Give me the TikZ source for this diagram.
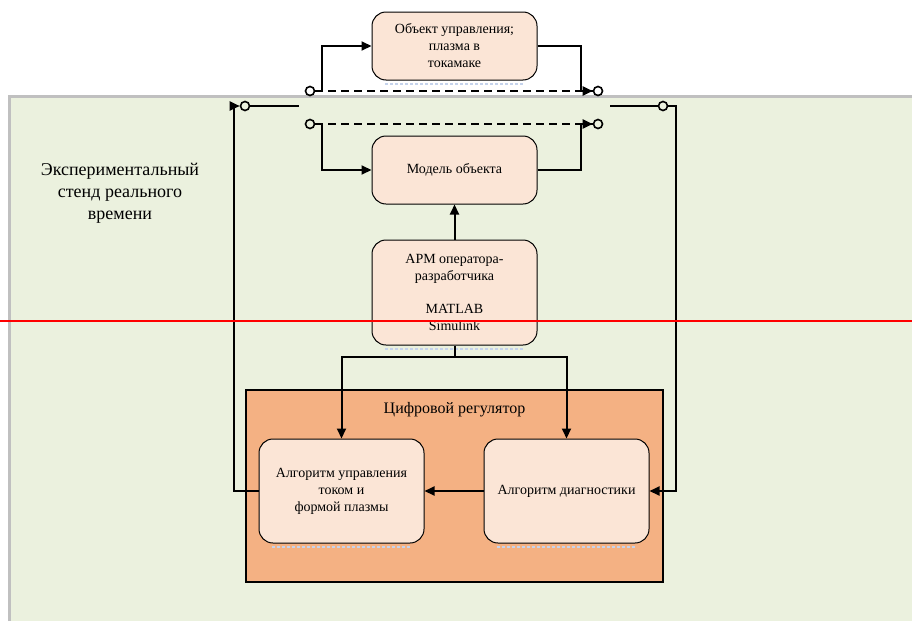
\documentclass[tikz,border=0pt]{standalone}
\usepackage{fontspec}
\setmainfont{Liberation Serif}
\usetikzlibrary{arrows.meta}
\definecolor{boxfill}{HTML}{FBE5D6}
\definecolor{regfill}{HTML}{F4B183}
\definecolor{bgreen}{HTML}{EBF1DE}
\definecolor{bgray}{HTML}{C0C0C0}
\definecolor{shadowc}{HTML}{C5D3EC}
\tikzset{
  blockbox/.style={draw=black, fill=boxfill, rounded corners=14pt, minimum width=165pt, align=center, inner sep=2pt,
    font=\fontsize{14}{17}\selectfont, line width=1pt},
  regbox/.style={draw=black, fill=regfill, minimum width=417pt, minimum height=192pt, line width=1.6pt},
  swc/.style={circle, draw=black, line width=1.6pt, inner sep=0pt, minimum size=9pt},
  conn/.style={line width=2pt, draw=black},
  arr/.style={conn, -{Triangle[length=10pt,width=9pt]}},
  dashconn/.style={line width=1.5pt, dash pattern=on 8pt off 5pt},
  shadowline/.style={draw=shadowc, line width=1.2pt, dash pattern=on 3pt off 2pt}
}
\begin{document}
\begin{tikzpicture}[x=1pt,y=-1pt]
\useasboundingbox (0,0) rectangle (912,621);
% background
\fill[bgreen] (9,96) rectangle (912,621);
\draw[bgray, line width=3pt] (9,621) -- (9,96) -- (912,96);
% regulator
\node[regbox] (reg) at (454.5,486) {};
\node[font=\fontsize{16}{19}\selectfont] (regl) at (454.5,410) {Цифровой регулятор};
% shadows
\draw[shadowline] (385,84) -- (524,84);
\draw[shadowline] (385,349) -- (524,349);
\draw[shadowline] (272,547) -- (411,547);
\draw[shadowline] (497,547) -- (636,547);
% blocks
\node[blockbox, minimum height=68pt] (top) at (454.5,46) {Объект управления;\\плазма в\\токамаке};
\node[blockbox, minimum height=68pt] (model) at (454.5,170) {Модель объекта};
\node[blockbox, minimum height=105pt] (apm) at (454.5,292.5) {АРМ оператора-\\разработчика\\[16pt]MATLAB\\Simulink};
\node[blockbox, minimum height=104pt] (ctrl) at (341.5,491) {Алгоритм управления\\током и\\формой плазмы};
\node[blockbox, minimum height=104pt] (diag) at (566.5,491) {Алгоритм диагностики};
% left label
\node[align=center, font=\fontsize{18}{22}\selectfont] (lbl) at (120,193) {Экспериментальный\\стенд реального\\времени};
% switch contacts
\node[swc] (cL1) at (310,91) {};
\node[swc] (cR1) at (598,91) {};
\node[swc] (cL2) at (310,124) {};
\node[swc] (cR2) at (598,124) {};
\node[swc] (cL3) at (245,106) {};
\node[swc] (cR3) at (663,106) {};
\coordinate (armL) at (299,106);
\coordinate (armR) at (610,106);
% dashed contacts
\draw[dashconn] (cL1) -- (cR1);
\draw[dashconn] (cL2) -- (cR2);
% object path
\draw[arr] (cL1.east) -- ++(7,0) |- (top.west);
\draw[arr] (top.east) -- ++(43,0) |- (cR1.west);
% model path
\draw[arr] (cL2.east) -- ++(7,0) |- (model.west);
\draw[arr] (model.east) -- ++(43,0) |- (cR2.west);
% switch arms
\draw[conn] (cL3.east) -- (armL);
\draw[conn] (armR) -- (cR3.west);
% feedback loops
\draw[arr] (ctrl.west) -- ++(-25,0) |- (cL3.west);
\draw[arr] (cR3.east) -- ++(8,0) |- (diag.east);
% APM links
\draw[arr] (apm.north) -- (model.south);
\draw[conn] (apm.south) -- ++(0,11) coordinate (split);
\draw[arr] (split) -| (ctrl.north);
\draw[arr] (split) -| (diag.north);
\draw[arr] (diag.west) -- (ctrl.east);
% red line
\draw[red, line width=1.8pt] (0,321) -- (912,321);
\end{tikzpicture}
\end{document}
